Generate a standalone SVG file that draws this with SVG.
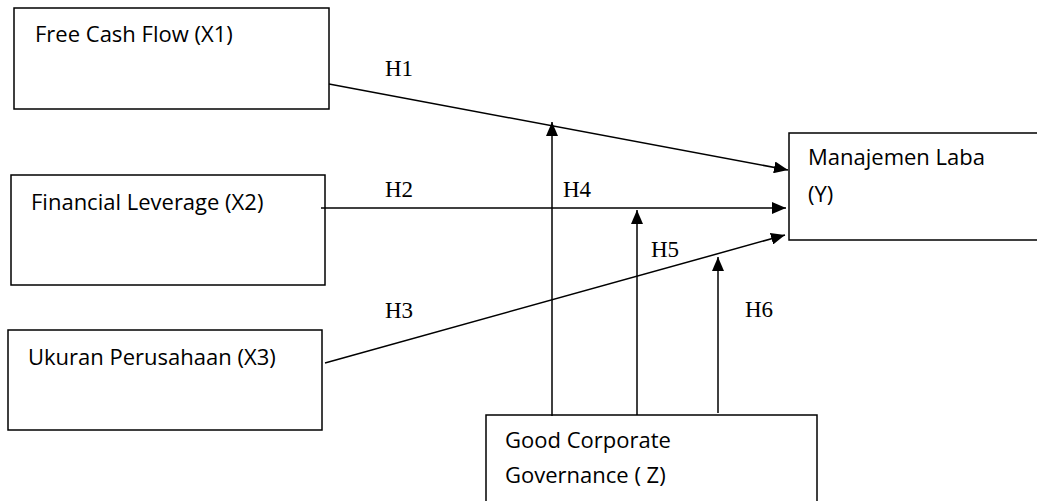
<svg xmlns="http://www.w3.org/2000/svg" width="1037" height="501" viewBox="0 0 1037 501">
<defs>
<style>
.box{fill:#fff;stroke:#000;stroke-width:1.5}
.t{font-family:"Open Sans","Liberation Sans",sans-serif;font-size:22px;fill:#000}
.h{font-family:"Liberation Serif",serif;font-size:23px;fill:#000}
.c{stroke:#000;stroke-width:1.5;fill:none}
</style>
<marker id="ahl" viewBox="0 0 14 12" refX="14" refY="6" markerWidth="14" markerHeight="12" markerUnits="userSpaceOnUse" orient="auto">
<path d="M0,0 L14,6 L0,12 z" fill="#000"/>
</marker>
</defs>
<g id="n1"><rect class="box" x="14" y="8" width="315" height="101"/><text class="t" x="35" y="42">Free Cash Flow (X1)</text></g>
<g id="n2"><rect class="box" x="11" y="175" width="314" height="110"/><text class="t" x="31" y="210">Financial Leverage (X2)</text></g>
<g id="n3"><rect class="box" x="8" y="330" width="314" height="100"/><text class="t" x="28" y="365">Ukuran Perusahaan (X3)</text></g>
<g id="ny"><rect class="box" x="789" y="133" width="260" height="107"/><text class="t" x="808" y="165">Manajemen Laba</text><text class="t" x="808" y="202">(Y)</text></g>
<g id="nz"><rect class="box" x="486" y="415" width="331" height="100"/><text class="t" x="505" y="448">Good Corporate</text><text class="t" x="505" y="483">Governance ( Z)</text></g>
<g id="connectors">
<line class="c" x1="329" y1="84" x2="788" y2="170" marker-end="url(#ahl)"/>
<line class="c" x1="321" y1="208" x2="786" y2="208" marker-end="url(#ahl)"/>
<line class="c" x1="325" y1="363" x2="785" y2="235" marker-end="url(#ahl)"/>
<line class="c" x1="552" y1="416" x2="552" y2="122" marker-end="url(#ahl)"/>
<line class="c" x1="637" y1="415" x2="637" y2="210" stroke-width="2.5" marker-end="url(#ahl)"/>
<line class="c" x1="718" y1="413" x2="718" y2="257" marker-end="url(#ahl)"/>
</g>
<g id="labels">
<text class="h" x="385" y="76">H1</text>
<text class="h" x="385" y="197">H2</text>
<text class="h" x="385" y="318">H3</text>
<text class="h" x="563" y="197">H4</text>
<text class="h" x="651" y="257">H5</text>
<text class="h" x="745" y="317">H6</text>
</g>
</svg>
